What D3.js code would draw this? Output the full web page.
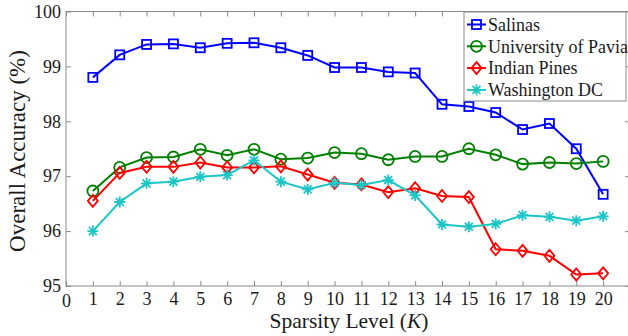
<!DOCTYPE html>
<html><head><meta charset="utf-8">
<script src="https://cdn.jsdelivr.net/npm/d3@7"></script>
<style>
html,body{margin:0;padding:0;background:#fff;overflow:hidden}
svg text{font-family:"Liberation Serif","Times New Roman",Times,"DejaVu Serif",serif !important;}
</style>
</head><body>
<svg id="c" width="628" height="336"></svg>
<script>
const kValues = [1,2,3,4,5,6,7,8,9,10,11,12,13,14,15,16,17,18,19,20];
const salinas = [98.80,99.21,99.40,99.41,99.34,99.42,99.43,99.34,99.20,98.98,98.98,98.90,98.88,98.31,98.27,98.16,97.85,97.96,97.50,96.67];
const pavia = [96.73,97.16,97.34,97.35,97.49,97.38,97.49,97.31,97.33,97.43,97.41,97.30,97.36,97.36,97.50,97.39,97.22,97.25,97.23,97.27];
const indianPines = [96.55,97.06,97.17,97.17,97.25,97.16,97.16,97.18,97.03,96.88,96.85,96.71,96.78,96.64,96.62,95.67,95.64,95.55,95.21,95.23];
const washingtonDC = [96.00,96.53,96.87,96.90,96.99,97.02,97.29,96.90,96.76,96.88,96.84,96.93,96.65,96.12,96.08,96.13,96.29,96.26,96.19,96.27];
const seriesNames = ["Salinas","University of Pavia","Indian Pines","Washington DC"];
const xTicks = [0,1,2,3,4,5,6,7,8,9,10,11,12,13,14,15,16,17,18,19,20];
const yTicks = [95,96,97,98,99,100];

const series = [
  {name: seriesNames[0], values: salinas, color: "#0000ff", marker: "square"},
  {name: seriesNames[1], values: pavia, color: "#008000", marker: "circle"},
  {name: seriesNames[2], values: indianPines, color: "#ff0000", marker: "diamond"},
  {name: seriesNames[3], values: washingtonDC, color: "#1cc6c6", marker: "star"}
];

const svg = d3.select("#c");
const L = 66, R = 630, T = 11.5, B = 286;
const x = d3.scaleLinear().domain([0,21]).range([L,R]);
const y = d3.scaleLinear().domain([95,100]).range([B,T]);
const axisColor = "#8a8a8a";
const txt = "#1a1a1a";

svg.append("rect").attr("x",L).attr("y",T).attr("width",R-L).attr("height",B-T)
  .attr("fill","none").attr("stroke",axisColor).attr("stroke-width",1);

const gx = svg.append("g").attr("transform",`translate(0,${B})`)
  .call(d3.axisBottom(x).tickValues(xTicks).tickSize(-5).tickPadding(6).tickFormat(d3.format("d")));
const gy = svg.append("g").attr("transform",`translate(${L},0)`)
  .call(d3.axisLeft(y).tickValues(yTicks).tickSize(-5).tickPadding(5).tickFormat(d3.format("d")));
const gy2 = svg.append("g").attr("transform",`translate(${R},0)`)
  .call(d3.axisRight(y).tickValues(yTicks).tickSize(-5).tickFormat(""));
const gx2 = svg.append("g").attr("transform",`translate(0,${T})`)
  .call(d3.axisTop(x).tickValues(xTicks).tickSize(-5).tickFormat(""));
[gx,gy,gy2,gx2].forEach(g=>{
  g.select(".domain").remove();
  g.selectAll(".tick line").attr("stroke",axisColor);
  g.selectAll("text").attr("font-size",18).attr("fill",txt);
});
gx.selectAll("text").attr("dy","0.71em");
gx.selectAll(".tick").filter(d=>d===0).select("text").attr("dy","0.85em");

svg.append("text").attr("x",349).attr("y",328).attr("text-anchor","middle")
  .attr("font-size",21.5).attr("fill",txt)
  .html('Sparsity Level (<tspan font-style="italic">K</tspan>)');
svg.append("text").attr("transform",`translate(25,151) rotate(-90)`).attr("text-anchor","middle")
  .attr("font-size",23).attr("fill",txt)
  .text("Overall Accuracy (%)");

function drawMarker(g, type, cx, cy, color){
  if(type==="square"){
    g.append("rect").attr("x",cx-4.5).attr("y",cy-4.5).attr("width",9).attr("height",9)
      .attr("fill","none").attr("stroke",color).attr("stroke-width",1.8);
  } else if(type==="circle"){
    g.append("circle").attr("cx",cx).attr("cy",cy).attr("r",5.5)
      .attr("fill","none").attr("stroke",color).attr("stroke-width",1.8);
  } else if(type==="diamond"){
    g.append("path").attr("d",`M${cx},${cy-6}L${cx+5},${cy}L${cx},${cy+6}L${cx-5},${cy}Z`)
      .attr("fill","none").attr("stroke",color).attr("stroke-width",1.8);
  } else {
    const r=5.5, d=r*0.72;
    g.append("path").attr("d",`M${cx-r},${cy}L${cx+r},${cy}M${cx},${cy-r}L${cx},${cy+r}M${cx-d},${cy-d}L${cx+d},${cy+d}M${cx-d},${cy+d}L${cx+d},${cy-d}`)
      .attr("fill","none").attr("stroke",color).attr("stroke-width",1.8);
  }
}

const line = d3.line().x((d,i)=>x(kValues[i])).y(d=>y(d));
series.forEach(s=>{
  const g = svg.append("g");
  g.append("path").attr("d",line(s.values)).attr("fill","none").attr("stroke",s.color).attr("stroke-width",2);
  s.values.forEach((v,i)=>drawMarker(g, s.marker, x(kValues[i]), y(v), s.color));
});

const lg = svg.append("g");
lg.append("rect").attr("x",464).attr("y",12).attr("width",162).attr("height",89)
  .attr("fill","#fff").attr("stroke",axisColor).attr("stroke-width",1);
series.forEach((s,i)=>{
  const ly = 24.5 + i*21.8;
  lg.append("line").attr("x1",467).attr("x2",486).attr("y1",ly).attr("y2",ly).attr("stroke",s.color).attr("stroke-width",2);
  drawMarker(lg, s.marker, 476.5, ly, s.color);
  lg.append("text").attr("x",488).attr("y",ly).attr("dy","0.35em")
    .attr("font-size",18).attr("fill",txt).text(s.name);
});
</script>
</body></html>
